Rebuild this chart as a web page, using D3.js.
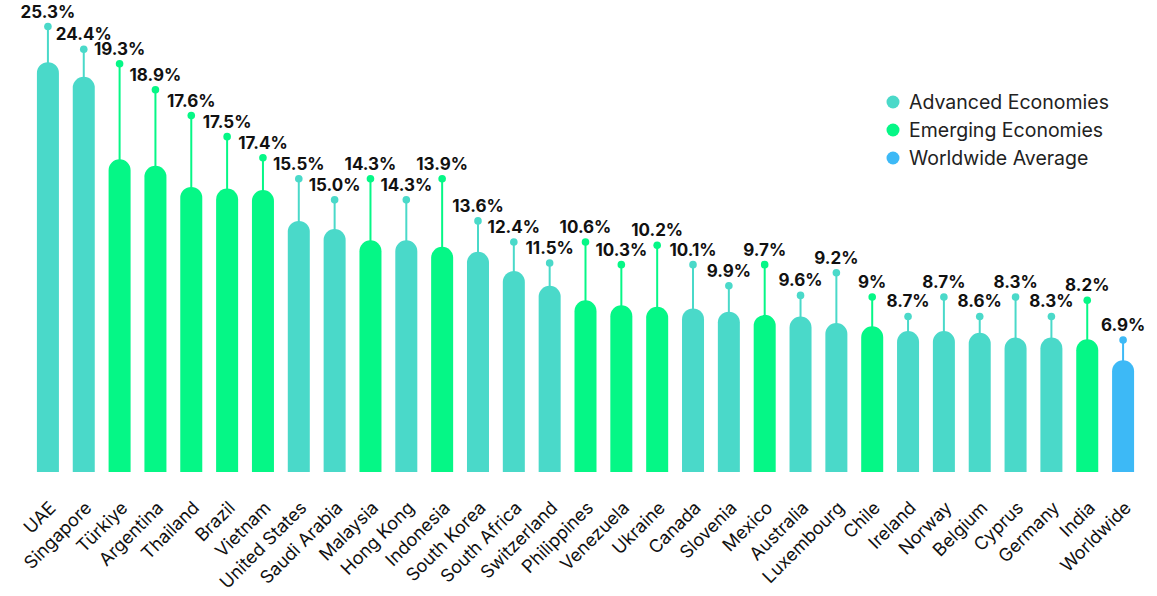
<!DOCTYPE html>
<html>
<head>
<meta charset="utf-8">
<script src="https://cdn.jsdelivr.net/npm/d3@7.9.0/dist/d3.min.js"></script>
<style>
  html, body { margin: 0; padding: 0; background: #fff; }
  svg { display: block; }
</style>
</head>
<body>
<div id="chart"></div>
<script>
// Data
const countries = ["UAE", "Singapore", "Türkiye", "Argentina", "Thailand", "Brazil", "Vietnam",
  "United States", "Saudi Arabia", "Malaysia", "Hong Kong", "Indonesia", "South Korea",
  "South Africa", "Switzerland", "Philippines", "Venezuela", "Ukraine", "Canada", "Slovenia",
  "Mexico", "Australia", "Luxembourg", "Chile", "Ireland", "Norway", "Belgium", "Cyprus",
  "Germany", "India", "Worldwide"]
const values = [25.3, 24.4, 19.3, 18.9, 17.6, 17.5, 17.4, 15.5, 15.0, 14.3, 14.3, 13.9, 13.6,
  12.4, 11.5, 10.6, 10.3, 10.2, 10.1, 9.9, 9.7, 9.6, 9.2, 9.0, 8.7, 8.7, 8.6, 8.3, 8.3, 8.2, 6.9]
const valueLabels = ["25.3%", "24.4%", "19.3%", "18.9%", "17.6%", "17.5%", "17.4%", "15.5%",
  "15.0%", "14.3%", "14.3%", "13.9%", "13.6%", "12.4%", "11.5%", "10.6%", "10.3%", "10.2%",
  "10.1%", "9.9%", "9.7%", "9.6%", "9.2%", "9%", "8.7%", "8.7%", "8.6%", "8.3%", "8.3%",
  "8.2%", "6.9%"]
// group of each country: A = advanced, E = emerging, W = worldwide
const groups = ["A", "A", "E", "E", "E", "E", "E", "A", "A", "E", "A", "E", "A", "A", "A", "E",
  "E", "E", "A", "A", "E", "A", "A", "E", "A", "A", "A", "A", "A", "E", "W"]
// level (in % units) where each label pin sits, staggered so the labels don't collide
const calloutAt = [27.5, 26.1, 25.2, 23.6, 22.0, 20.7, 19.4, 18.1, 16.8, 18.1, 16.8, 18.1, 15.5,
  14.2, 12.9, 14.2, 12.8, 14.0, 12.8, 11.5, 12.8, 10.9, 12.3, 10.8, 9.6, 10.8, 9.6, 10.8, 9.6,
  10.6, 8.15]
const legendGroups = ["A", "E", "W"]
const legendNames = ["Advanced Economies", "Emerging Economies", "Worldwide Average"]

const width = 1157, height = 596
const baseline = 472

const color = d3.scaleOrdinal()
  .domain(legendGroups)
  .range(["#4ad9c9", "#05f786", "#3db9f6"])

const x = d3.scaleBand()
  .domain(countries)
  .range([30, 1141])
  .paddingInner(0.386)
  .paddingOuter(0.193)

const y = d3.scaleLinear()
  .domain([0, 28])
  .range([baseline, baseline - 28 * 16.2])

const data = countries.map((c, i) => ({
  country: c, value: values[i], label: valueLabels[i], group: groups[i], pin: calloutAt[i]
}))

const svg = d3.select("#chart").append("svg")
  .attr("width", width)
  .attr("height", height)
  .attr("viewBox", [0, 0, width, height])
  .style("font-family", "Inter, 'DejaVu Sans', sans-serif")

// bar with a rounded top
const barPath = d => {
  const w = x.bandwidth(), r = w / 2
  const x0 = x(d.country), top = y(d.value)
  return `M${x0},${baseline}V${top + r}A${r},${r} 0 0 1 ${x0 + w},${top + r}V${baseline}Z`
}

const g = svg.append("g")

// leader lines
g.selectAll("line.pin")
  .data(data)
  .join("line")
    .attr("class", "pin")
    .attr("x1", d => x(d.country) + x.bandwidth() / 2)
    .attr("x2", d => x(d.country) + x.bandwidth() / 2)
    .attr("y1", d => y(d.value) + 2)
    .attr("y2", d => y(d.pin))
    .attr("stroke", d => color(d.group))
    .attr("stroke-width", 2)

g.selectAll("path.bar")
  .data(data)
  .join("path")
    .attr("class", "bar")
    .attr("fill", d => color(d.group))
    .attr("d", barPath)

g.selectAll("circle.pin")
  .data(data)
  .join("circle")
    .attr("class", "pin")
    .attr("cx", d => x(d.country) + x.bandwidth() / 2)
    .attr("cy", d => y(d.pin))
    .attr("r", 3.8)
    .attr("fill", d => color(d.group))

g.selectAll("text.value")
  .data(data)
  .join("text")
    .attr("class", "value")
    .attr("x", d => x(d.country) + x.bandwidth() / 2)
    .attr("y", d => y(d.pin) - 9)
    .attr("text-anchor", "middle")
    .attr("font-size", 17)
    .attr("font-weight", 700)
    .attr("fill", "#111")
    .text(d => d.label)

// x axis labels
const xAxis = d3.axisBottom(x).tickSize(0).tickPadding(0)
svg.append("g")
  .attr("transform", `translate(0,${baseline})`)
  .call(xAxis)
  .call(a => a.select(".domain").remove())
  .call(a => a.selectAll(".tick text")
    .attr("font-family", "Inter, 'DejaVu Sans', sans-serif")
    .attr("font-size", 18)
    .attr("fill", "#111")
    .attr("text-anchor", "end")
    .attr("dy", 0)
    .attr("y", 0)
    .attr("transform", "translate(9,37) rotate(-45)"))

// legend
const legend = svg.append("g")
  .attr("transform", "translate(893,102)")
legend.selectAll("circle")
  .data(legendGroups)
  .join("circle")
    .attr("cx", 0)
    .attr("cy", (d, i) => i * 28)
    .attr("r", 6.5)
    .attr("fill", d => color(d))
legend.selectAll("text")
  .data(legendNames)
  .join("text")
    .attr("x", 16)
    .attr("y", (d, i) => i * 28)
    .attr("dy", "0.35em")
    .attr("font-size", 19.5)
    .attr("fill", "#222")
    .text(d => d)
</script>
</body>
</html>
